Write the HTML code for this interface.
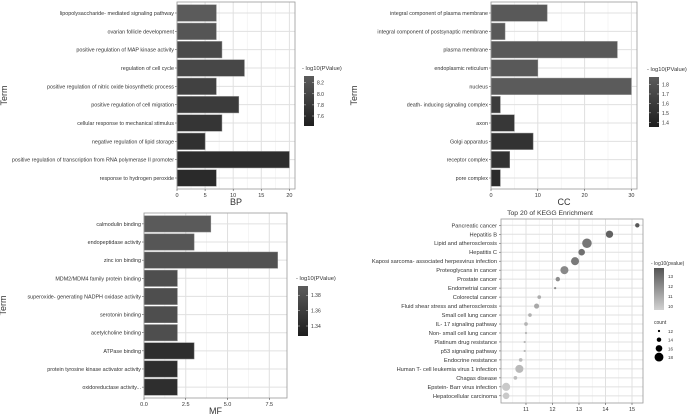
<!DOCTYPE html>
<html><head><meta charset="utf-8"><style>
body{margin:0;background:#fff}
svg{display:block;font-family:"Liberation Sans",sans-serif}
</style></head><body>
<svg id="fig" width="700" height="420" viewBox="0 0 700 420">
<defs>
<linearGradient id="gBar" x1="0" y1="1" x2="0" y2="0"><stop offset="0" stop-color="#1e1e1e"/><stop offset="1" stop-color="#5c5c5c"/></linearGradient>
<linearGradient id="gK" x1="0" y1="1" x2="0" y2="0"><stop offset="0" stop-color="#d2d2d2"/><stop offset="1" stop-color="#555"/></linearGradient>
</defs>
</svg>
<script>
const bpTerms=["lipopolysaccharide- mediated signaling pathway","ovarian follicle development","positive regulation of MAP kinase activity","regulation of cell cycle","positive regulation of nitric oxide biosynthetic process","positive regulation of cell migration","cellular response to mechanical stimulus","negative regulation of lipid storage","positive regulation of transcription from RNA polymerase II promoter","response to hydrogen peroxide"];
const bpCounts=[7,7,8,12,7,11,8,5,20,7];
const bpP=[8.3,8.2,8.0,7.95,7.85,7.75,7.65,7.55,7.5,7.45];
const bpTicks=[0,5,10,15,20];
const bpLegendTicks=[7.6,7.8,8.0,8.2];
const ccTerms=["integral component of plasma membrane","integral component of postsynaptic membrane","plasma membrane","endoplasmic reticulum","nucleus","death- inducing signaling complex","axon","Golgi apparatus","receptor complex","pore complex"];
const ccCounts=[12,3,27,10,30,2,5,9,4,2];
const ccP=[1.85,1.85,1.85,1.85,1.87,1.55,1.5,1.45,1.45,1.38];
const ccTicks=[0,10,20,30];
const ccLegendTicks=[1.4,1.5,1.6,1.7,1.8];
const mfTerms=["calmodulin binding","endopeptidase activity","zinc ion binding","MDM2/MDM4 family protein binding","superoxide- generating NADPH oxidase activity","serotonin binding","acetylcholine binding","ATPase binding","protein tyrosine kinase activator activity","oxidoreductase activity..."];
const mfCounts=[4,3,8,2,2,2,2,3,2,2];
const mfP=[1.39,1.385,1.38,1.375,1.375,1.375,1.375,1.335,1.335,1.335];
const mfTicks=[0,2.5,5,7.5];
const mfLegendTicks=[1.34,1.36,1.38];
const kTerms=["Pancreatic cancer","Hepatitis B","Lipid and atherosclerosis","Hepatitis C","Kaposi sarcoma- associated herpesvirus infection","Proteoglycans in cancer","Prostate cancer","Endometrial cancer","Colorectal cancer","Fluid shear stress and atherosclerosis","Small cell lung cancer","IL- 17 signaling pathway","Non- small cell lung cancer","Platinum drug resistance","p53 signaling pathway","Endocrine resistance","Human T- cell leukemia virus 1 infection","Chagas disease","Epstein- Barr virus infection","Hepatocellular carcinoma"];
const kX=[15.2,14.15,13.3,13.1,12.85,12.45,12.2,12.1,11.5,11.4,11.15,11.0,11.0,10.95,10.95,10.8,10.75,10.6,10.25,10.25];
const kCount=[13.5,15.5,17,15,16,16,13.5,12,13,14,13,13,12,12,12,13,16,13,16,15];
const kP=[13.6,13.3,12.6,12.8,12.5,12.0,11.8,11.9,10.7,10.9,10.6,10.5,10.5,10.4,10.4,10.3,10.3,10.2,9.8,9.8];
const kTicks=[11,12,13,14,15];
const kLegendTicks=[10,11,12,13];
const kCountTicks=[12,14,16,18];

const svg=document.getElementById('fig');const NS='http://www.w3.org/2000/svg';
function mk(t,a,p){const e=document.createElementNS(NS,t);for(const k in a)e.setAttribute(k,a[k]);(p||svg).appendChild(e);return e;}
function txt(x,y,s,size,anchor,p){const e=mk('text',{x:x,y:y,'font-size':size,'text-anchor':anchor||'start',fill:'#333'},p);e.textContent=s;return e;}
function gray(v,lo,hi,c0,c1){const t=Math.max(0,Math.min(1,(v-lo)/(hi-lo)));const g=Math.round(c0+(c1-c0)*t);return 'rgb('+g+','+g+','+g+')';}

function barPanel(name,terms,counts,pv,ticks,lticks,L,T,R,B,xmax,pLo,pHi,xtitle,lx,ly,minorStep,termX,dec){
  const g=mk('g',{});
  
  
  const xs=v=>L+(v/xmax)*(R-L);
  const n=terms.length, step=(B-T)/(n+0.2);
  const ys=i=>T+step*(0.6+i);
  mk('rect',{x:L,y:T,width:R-L,height:B-T,fill:'#fff'},g);
  for(let v=minorStep;v<xmax;v+=minorStep*2) mk('line',{x1:xs(v),x2:xs(v),y1:T,y2:B,stroke:'#efefef','stroke-width':0.6},g);
  ticks.forEach(v=>mk('line',{x1:xs(v),x2:xs(v),y1:T,y2:B,stroke:'#e0e0e0','stroke-width':1},g));
  terms.forEach((t,i)=>mk('line',{x1:L,x2:R,y1:ys(i),y2:ys(i),stroke:'#e0e0e0','stroke-width':1},g));
  terms.forEach((t,i)=>{
    const r=mk('rect',{x:L,y:ys(i)-step*0.45,width:xs(counts[i])-L,height:step*0.9,fill:gray(pv[i],pLo,pHi,0x28,0x5c),stroke:'#888','stroke-width':0.5},g);
    
    
    const l=txt(L-3,ys(i)+2,t,5.4,'end',g);
    
    
    mk('line',{x1:L-2,x2:L,y1:ys(i),y2:ys(i),stroke:'#333','stroke-width':0.5},g);
  });
  mk('rect',{x:L,y:T,width:R-L,height:B-T,fill:'none',stroke:'#999','stroke-width':0.8},g);
  ticks.forEach(v=>{mk('line',{x1:xs(v),x2:xs(v),y1:B,y2:B+2,stroke:'#333','stroke-width':0.5},g);
    const e=txt(xs(v),B+8,String(v.toFixed(dec)),5.5,'middle',g);
    
    });
  const xt=txt((L+R)/2,B+16,xtitle,9,'middle',g);
  
  
  const tt=txt(0,0,'Term',9,'middle',g);tt.setAttribute('transform','translate('+termX+','+((T+B)/2)+') rotate(-90)');
  
  
  const lt=txt(lx-2,ly,'- log10(PValue)',5.8,'start',g);
  
  
  const cb=mk('rect',{x:lx,y:ly+6,width:10,height:50,fill:'url(#gBar)'},g);
  
  
  const lo=pLo, hi=pHi;
  lticks.forEach(v=>{const y=ly+56-(v-lo)/(hi-lo)*50;mk('line',{x1:lx,x2:lx+2,y1:y,y2:y,stroke:'#fff','stroke-width':0.4},g);mk('line',{x1:lx+8,x2:lx+10,y1:y,y2:y,stroke:'#fff','stroke-width':0.4},g);
    const e=txt(lx+13,y+2,v.toFixed(name==='mf'?2:1),5,'start',g);
    
    });
}
barPanel('bp',bpTerms,bpCounts,bpP,bpTicks,bpLegendTicks,177,2,295,189,21,7.42,8.32,'BP',304,70,2.5,7,0);
barPanel('cc',ccTerms,ccCounts,ccP,ccTicks,ccLegendTicks,491,2,637,189,31.2,1.35,1.88,'CC',649,71,5,357,0);
barPanel('mf',mfTerms,mfCounts,mfP,mfTicks,mfLegendTicks,144,213,287,398,8.56,1.327,1.392,'MF',298,280,1.25,6,1);

// KEGG
(function(){
  const g=mk('g',{});
  
  
  const L=501,R=643,T=219,B=403,x0=10.057,x1=15.415;
  const xs=v=>L+(v-x0)/(x1-x0)*(R-L);
  const step=(B-T)/(kTerms.length+0.5);
  const ys=i=>T+step*(0.7+i);
  const rs=c=>1.1+(c-12)/6*4.4;
  mk('rect',{x:L,y:T,width:R-L,height:B-T,fill:'#fff'},g);
  kTicks.forEach(v=>{mk('line',{x1:xs(v-0.5),x2:xs(v-0.5),y1:T,y2:B,stroke:'#efefef','stroke-width':0.6},g);mk('line',{x1:xs(v),x2:xs(v),y1:T,y2:B,stroke:'#e0e0e0','stroke-width':1},g);});
  kTerms.forEach((t,i)=>mk('line',{x1:L,x2:R,y1:ys(i),y2:ys(i),stroke:'#e0e0e0','stroke-width':1},g));
  kTerms.forEach((t,i)=>{
    const c=mk('circle',{cx:xs(kX[i]),cy:ys(i),r:rs(kCount[i]),fill:gray(kP[i],9.6,13.7,0xcf,0x55)},g);
    
    
    const l=txt(L-4,ys(i)+2,t,5.7,'end',g);
    
    
    mk('line',{x1:L-2,x2:L,y1:ys(i),y2:ys(i),stroke:'#333','stroke-width':0.5},g);
  });
  mk('rect',{x:L,y:T,width:R-L,height:B-T,fill:'none',stroke:'#999','stroke-width':0.8},g);
  kTicks.forEach(v=>{mk('line',{x1:xs(v),x2:xs(v),y1:B,y2:B+2,stroke:'#333','stroke-width':0.5},g);
    const e=txt(xs(v),B+8,String(v),5.5,'middle',g);
    
    });
  const ti=txt(550,215,'Top 20 of KEGG Enrichment',6.8,'middle',g);
  
  
  const lt=txt(651,265,'- log10(pvalue)',5,'start',g);
  
  
  const cb=mk('rect',{x:654,y:268,width:10,height:42,fill:'url(#gK)'},g);
  
  
  kLegendTicks.forEach(v=>{const y=310-(v-9.6)/(13.8-9.6)*42;
    const e=txt(668,y+2,String(v),4.5,'start',g);
    
    });
  const ct=txt(654,324,'count',5,'start',g);
  
  
  kCountTicks.forEach((v,i)=>{const y=331+i*8.7;
    const c=mk('circle',{cx:659,cy:y,r:rs(v)*0.75+0.3,fill:'#000'},g);
    
    
    const e=txt(668,y+2,String(v),4.5,'start',g);
    
    });
})();
</script>
</body></html>
